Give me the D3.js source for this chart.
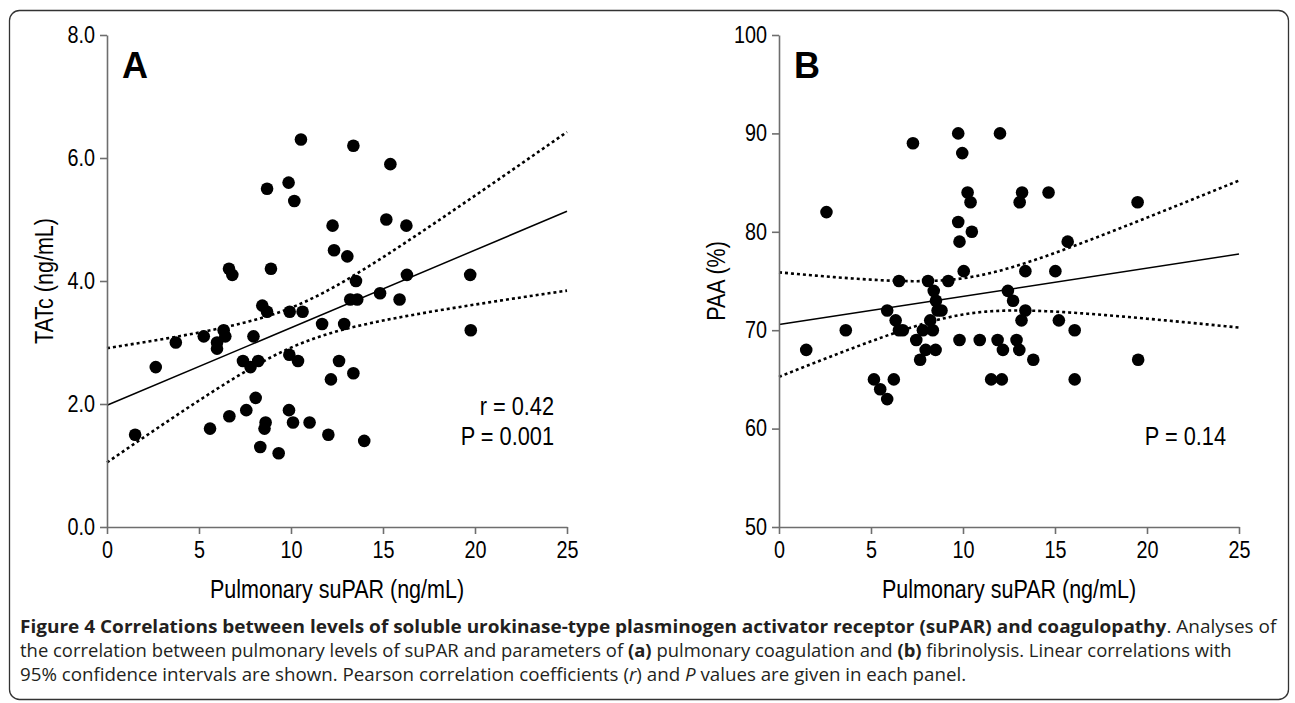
<!DOCTYPE html>
<html>
<head>
<meta charset="utf-8">
<script src="https://cdn.jsdelivr.net/npm/d3@7"></script>
<style>
body { margin: 0; background: #fff; }
svg text { font-family: "Liberation Sans", Arial, sans-serif; fill: #000; }
.caption text { font-family: "Open Sans", "Noto Sans", sans-serif; fill: #231f20; }
</style>
</head>
<body>
<svg id="fig" width="1295" height="703"></svg>
<script>
// panel A: pulmonary suPAR vs TATc
var suparA = [1.53, 2.65, 3.74, 5.26, 5.60, 5.98, 5.98, 6.34, 6.43, 6.63, 6.81, 6.65, 7.39, 7.57, 7.80,
    7.96, 8.08, 8.22, 8.33, 8.44, 8.56, 8.62, 8.70, 8.70, 8.91, 9.33, 9.87, 9.89, 9.91, 9.93,
    10.11, 10.18, 10.38, 10.54, 10.63, 11.01, 11.69, 12.03, 12.17, 12.26, 12.34, 12.61, 12.89, 13.06, 13.22,
    13.39, 13.39, 13.53, 13.60, 13.98, 14.84, 15.18, 15.40, 15.90, 16.27, 16.30, 19.74, 19.77];
var tatc = [1.5, 2.6, 3.0, 3.1, 1.6, 3.0, 2.9, 3.2, 3.1, 4.2, 4.1, 1.8, 2.7, 1.9, 2.6,
    3.1, 2.1, 2.7, 1.3, 3.6, 1.6, 1.7, 5.5, 3.5, 4.2, 1.2, 5.6, 1.9, 2.8, 3.5,
    1.7, 5.3, 2.7, 6.3, 3.5, 1.7, 3.3, 1.5, 2.4, 4.9, 4.5, 2.7, 3.3, 4.4, 3.7,
    6.2, 2.5, 4.0, 3.7, 1.4, 3.8, 5.0, 5.9, 3.7, 4.9, 4.1, 4.1, 3.2];

// panel B: pulmonary suPAR vs PAA
var suparB = [9.74, 12.01, 7.28, 9.96, 10.25, 10.41, 13.21, 13.08, 14.65, 2.58, 9.74, 10.48, 9.81, 10.04, 13.39,
    15.02, 6.52, 8.10, 9.20, 8.41, 12.44, 8.53, 12.72, 5.88, 8.62, 8.83, 13.39, 6.34, 8.22, 13.18,
    15.21, 3.63, 6.52, 6.73, 7.82, 8.36, 7.46, 9.81, 10.91, 11.88, 12.91, 1.48, 7.97, 8.51, 12.17,
    13.06, 7.67, 13.82, 5.16, 6.24, 5.50, 5.88, 11.53, 12.11, 19.49, 15.69, 16.07, 19.52, 16.07];
var paa = [90, 90, 89, 88, 84, 83, 84, 83, 84, 82, 81, 80, 79, 76, 76,
    76, 75, 75, 75, 74, 74, 73, 73, 72, 72, 72, 72, 71, 71, 71,
    71, 70, 70, 70, 70, 70, 69, 69, 69, 69, 69, 68, 68, 68, 68,
    68, 67, 67, 65, 65, 64, 63, 65, 65, 83, 79, 70, 67, 65];

var xTicks = [0, 5, 10, 15, 20, 25];
var tatcTicks = [0, 2, 4, 6, 8];
var paaTicks = [50, 60, 70, 80, 90, 100];

var captionLines = [
    [["Figure 4 Correlations between levels of soluble urokinase-type plasminogen activator receptor (suPAR) and coagulopathy", "b"], [". Analyses of", ""]],
    [["the correlation between pulmonary levels of suPAR and parameters of ", ""], ["(a)", "b"], [" pulmonary coagulation and ", ""], ["(b)", "b"], [" fibrinolysis. Linear correlations with", ""]],
    [["95% confidence intervals are shown. Pearson correlation coefficients (", ""], ["r", "i"], [") and ", ""], ["P", "i"], [" values are given in each panel.", ""]]
];

var svg = d3.select("#fig");

// rounded frame round the figure
svg.append("rect")
    .attr("x", 9.5).attr("y", 10.5)
    .attr("width", 1279).attr("height", 689)
    .attr("rx", 10)
    .attr("fill", "none")
    .attr("stroke", "#333")
    .attr("stroke-width", 1.3);

// squeeze text a bit, the figure fonts are narrow
function squeeze(sel, k) {
    sel.each(function() {
        var w = this.getComputedTextLength();
        d3.select(this).attr("textLength", w * k).attr("lengthAdjust", "spacingAndGlyphs");
    });
}

// least squares fit plus 95% confidence band of the line
function fitLine(xs, ys) {
    var n = xs.length;
    var mx = d3.mean(xs), my = d3.mean(ys);
    var sxx = d3.sum(xs, function(d) { return (d - mx) * (d - mx); });
    var sxy = d3.sum(xs, function(d, i) { return (d - mx) * (ys[i] - my); });
    var b = sxy / sxx, a = my - b * mx;
    var sse = d3.sum(xs, function(d, i) { var r = ys[i] - (a + b * d); return r * r; });
    var s = Math.sqrt(sse / (n - 2));
    var t = 2.003;
    return {
        y: function(x) { return a + b * x; },
        half: function(x) { return t * s * Math.sqrt(1 / n + (x - mx) * (x - mx) / sxx); }
    };
}

function drawPanel(opts) {
    var x = d3.scaleLinear().domain([0, 25]).range([opts.left, opts.right]);
    var y = d3.scaleLinear().domain(opts.yDomain).range([527, 35]);
    var g = svg.append("g");

    var fit = fitLine(opts.xs, opts.ys);
    var grid = d3.range(0, 25.01, 0.25);

    var line = d3.line()
        .x(function(d) { return x(d[0]); })
        .y(function(d) { return y(d[1]); });

    g.append("path")
        .attr("d", line(grid.map(function(d) { return [d, fit.y(d) + fit.half(d)]; })))
        .attr("fill", "none").attr("stroke", "#000")
        .attr("stroke-width", 2.6).attr("stroke-dasharray", "3,3");
    g.append("path")
        .attr("d", line(grid.map(function(d) { return [d, fit.y(d) - fit.half(d)]; })))
        .attr("fill", "none").attr("stroke", "#000")
        .attr("stroke-width", 2.6).attr("stroke-dasharray", "3,3");
    g.append("path")
        .attr("d", line([[0, fit.y(0)], [25, fit.y(25)]]))
        .attr("fill", "none").attr("stroke", "#000").attr("stroke-width", 1.5);

    g.selectAll("circle.dot")
        .data(opts.xs)
        .enter()
        .append("circle")
        .attr("class", "dot")
        .attr("cx", function(d) { return x(d); })
        .attr("cy", function(d, i) { return y(opts.ys[i]); })
        .attr("r", 6.3)
        .attr("fill", "#000");

    var yAxis = g.append("g")
        .attr("transform", "translate(" + opts.left + ",0)")
        .call(d3.axisLeft(y).tickValues(opts.yTicks).tickSize(7).tickSizeOuter(0).tickPadding(5).tickFormat(opts.yFormat));
    var xAxis = g.append("g")
        .attr("transform", "translate(0,527)")
        .call(d3.axisBottom(x).tickValues(xTicks).tickSize(7).tickSizeOuter(0).tickPadding(4));

    [yAxis, xAxis].forEach(function(ax) {
        ax.select(".domain").attr("stroke", "#6e6e6e").attr("stroke-width", 1.6);
        ax.selectAll(".tick line").attr("stroke", "#6e6e6e").attr("stroke-width", 1.6);
        ax.selectAll(".tick text").attr("fill", "#000").attr("font-size", 23)
            .attr("font-family", "Liberation Sans, Arial, sans-serif");
        squeeze(ax.selectAll(".tick text"), 0.86);
    });
    xAxis.selectAll(".tick text").attr("dy", "0.88em");

    var ttl = g.append("text")
        .attr("x", (opts.left + opts.right) / 2).attr("y", 598)
        .attr("text-anchor", "middle").attr("font-size", 25)
        .text("Pulmonary suPAR (ng/mL)");
    squeeze(ttl, 0.86);

    var ytl = g.append("text")
        .attr("transform", "translate(" + (opts.left - 54) + ",281) rotate(-90)")
        .attr("text-anchor", "middle").attr("font-size", 25)
        .text(opts.yLabel);
    squeeze(ytl, 0.86);

    g.append("text")
        .attr("x", opts.left + 15).attr("y", 78)
        .attr("font-size", 36).attr("font-weight", "bold")
        .text(opts.letter);

    opts.stats.forEach(function(s, i) {
        var st = g.append("text")
            .attr("x", opts.right - 13).attr("y", 445 - (opts.stats.length - 1 - i) * 30)
            .attr("text-anchor", "end").attr("font-size", 25)
            .text(s);
        squeeze(st, 0.87);
    });
}

drawPanel({
    left: 107, right: 567,
    xs: suparA, ys: tatc,
    yDomain: [0, 8], yTicks: tatcTicks, yFormat: d3.format(".1f"),
    yLabel: "TATc (ng/mL)", letter: "A",
    stats: ["r = 0.42", "P = 0.001"]
});

drawPanel({
    left: 779, right: 1239,
    xs: suparB, ys: paa,
    yDomain: [50, 100], yTicks: paaTicks, yFormat: d3.format("d"),
    yLabel: "PAA (%)", letter: "B",
    stats: ["P = 0.14"]
});

// caption, three lines fitted to the widths in the figure
var cap = svg.append("g").attr("class", "caption");
var capEnds = [1277, 1232, 967];
captionLines.forEach(function(parts, i) {
    var t = cap.append("text")
        .attr("font-size", 18);
    parts.forEach(function(p) {
        t.append("tspan")
            .attr("font-weight", p[1] === "b" ? "bold" : null)
            .attr("font-style", p[1] === "i" ? "italic" : null)
            .text(p[0]);
    });
    var w = t.node().getComputedTextLength();
    t.attr("transform", "translate(20," + (633 + i * 24) + ") scale(" + ((capEnds[i] - 20) / w) + ",1)");
});
</script>
</body>
</html>
